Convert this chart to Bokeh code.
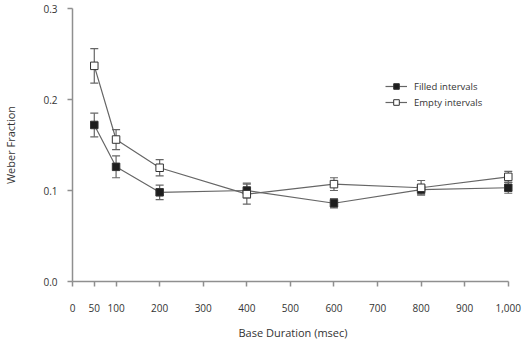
from bokeh.plotting import figure
from bokeh.models import ColumnDataSource, Whisker, TeeHead, FixedTicker, Range1d, Legend, LegendItem
from bokeh.embed import file_html
from bokeh.resources import INLINE

# Base durations (msec) and Weber fractions with error half-widths
durations = [50, 100, 200, 400, 600, 800, 1000]
filled = [0.172, 0.126, 0.098, 0.100, 0.086, 0.101, 0.103]
filled_err = [0.013, 0.012, 0.008, 0.008, 0.005, 0.005, 0.006]
empty = [0.237, 0.156, 0.125, 0.096, 0.107, 0.103, 0.115]
empty_err = [0.019, 0.011, 0.009, 0.011, 0.007, 0.008, 0.006]

x_ticks = [0, 50, 100, 200, 300, 400, 500, 600, 700, 800, 900, 1000]
x_tick_labels = ["0", "50", "100", "200", "300", "400", "500", "600", "700", "800", "900", "1,000"]
y_ticks = [0.0, 0.1, 0.2, 0.3]
y_tick_labels = ["0.0", "0.1", "0.2", "0.3"]

FONT = "Open Sans"
AXIS = "#8f8f8f"
LINE = "#666666"
TEXT = "#333333"

# a little room past 1,000 so the last markers are not cut by the frame
p = figure(frame_width=441, frame_height=273, output_backend="svg", toolbar_location=None,
           x_range=Range1d(0, 1012), y_range=Range1d(0, 0.3),
           min_border_left=70, min_border_right=11, min_border_top=8, min_border_bottom=61)
p.outline_line_color = None
p.xgrid.visible = False
p.ygrid.visible = False
p.background_fill_color = "white"

for ax in (p.xaxis[0], p.yaxis[0]):
    ax.axis_line_color = AXIS
    ax.axis_line_width = 1.5
    ax.major_tick_line_color = AXIS
    ax.major_tick_line_width = 1.5
    ax.major_tick_out = 5
    ax.major_tick_in = 0
    ax.minor_tick_line_color = None
    ax.major_label_text_font = FONT
    ax.major_label_text_font_size = "10px"
    ax.major_label_text_color = TEXT
    ax.axis_label_text_font = FONT
    ax.axis_label_text_font_size = "11px"
    ax.axis_label_text_font_style = "normal"
    ax.axis_label_text_color = TEXT

p.xaxis.ticker = FixedTicker(ticks=x_ticks)
p.xaxis.bounds = (0, 1000)
p.xaxis.major_label_overrides = {t: s for t, s in zip(x_ticks, x_tick_labels)}
p.xaxis.major_label_standoff = 17
p.xaxis.axis_label = "Base Duration (msec)"
p.xaxis.axis_label_standoff = 10

p.yaxis.ticker = FixedTicker(ticks=y_ticks)
p.yaxis.major_label_overrides = {t: s for t, s in zip(y_ticks, y_tick_labels)}
p.yaxis.major_label_standoff = 10
p.yaxis.axis_label = "Weber Fraction"
p.yaxis.axis_label_standoff = 22

src_f = ColumnDataSource(dict(x=durations, y=filled,
                              lo=[v - e for v, e in zip(filled, filled_err)],
                              hi=[v + e for v, e in zip(filled, filled_err)]))
src_e = ColumnDataSource(dict(x=durations, y=empty,
                              lo=[v - e for v, e in zip(empty, empty_err)],
                              hi=[v + e for v, e in zip(empty, empty_err)]))

items = []
for src, fill, name in ((src_f, "#1e1e1e", "Filled intervals"), (src_e, "white", "Empty intervals")):
    ln = p.line("x", "y", source=src, line_color=LINE, line_width=1.2)
    w = Whisker(base="x", lower="lo", upper="hi", source=src, level="underlay",
                line_color=LINE, line_width=1.2,
                upper_head=TeeHead(size=8, line_color=LINE, line_width=1.2),
                lower_head=TeeHead(size=8, line_color=LINE, line_width=1.2))
    p.add_layout(w)
    mk = p.scatter("x", "y", source=src, marker="square", size=7.5,
                   fill_color=fill, line_color="#333333", line_width=1)
    items.append(LegendItem(label=name, renderers=[ln, mk]))

legend = Legend(items=items, location=(313, 172), orientation="vertical",
                label_text_font=FONT, label_text_font_size="9.5px", label_text_color=TEXT,
                glyph_width=22, glyph_height=14, label_standoff=7, spacing=2,
                padding=2, margin=0, border_line_color=None, background_fill_alpha=0)
p.add_layout(legend, "center")

open("out.html", "w").write(file_html(p, INLINE))
